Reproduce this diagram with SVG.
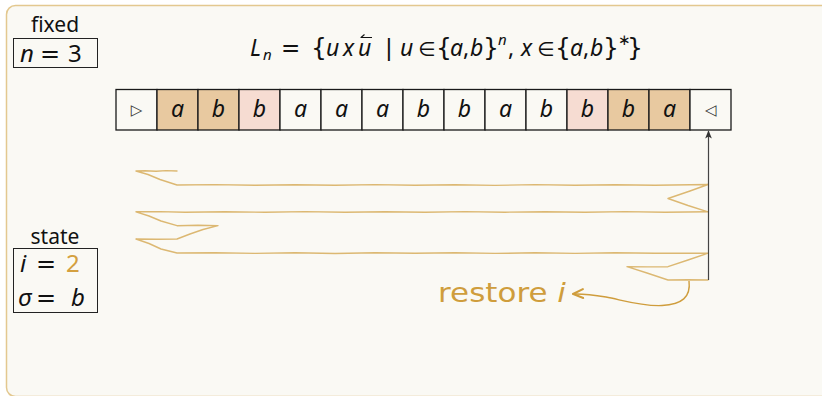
<svg xmlns="http://www.w3.org/2000/svg" width="822" height="396" viewBox="0 0 822 396">
  <style>
    .math { font-family: "Noto Sans", "DejaVu Sans", sans-serif; fill: #111; }
    .op { font-family: "DejaVu Sans", sans-serif; font-style: normal; }
    .el { font-family: "DejaVu Sans", sans-serif; font-style: normal; font-size: 20px; }
    .br { font-family: "DejaVu Sans", sans-serif; font-style: normal; font-size: 25px; }
    .it { font-style: italic; }
    .lbl { font-family: "Noto Sans", "DejaVu Sans", sans-serif; font-size: 21px; fill: #111; text-anchor: middle; }
    .cell { stroke: #1a1a1a; stroke-width: 1.3; }
    .plain { fill: #faf9f4; }
    .tan { fill: #e8c9a0; }
    .pink { fill: #f6dcd2; }
    .sym { font-family: "DejaVu Sans", sans-serif; font-size: 15px; fill: #333; text-anchor: middle; }
    .ch { font-family: "Noto Sans", "DejaVu Sans", sans-serif; font-style: italic; font-size: 23px; fill: #111; text-anchor: middle; }
    .trace { fill: none; stroke: #dcb872; stroke-width: 1.4; stroke-linejoin: round; stroke-linecap: round; }
    .gold { fill: #cf9d3c; }
  </style>
  <defs>
    <marker id="headArrow" viewBox="0 0 10 10" refX="9" refY="5" markerWidth="7" markerHeight="7" orient="auto">
      <path d="M0,1 L10,5 L0,9 L2.5,5 Z" fill="#333"/>
    </marker>
    <marker id="goldArrow" viewBox="0 0 10 10" refX="9" refY="5" markerWidth="9" markerHeight="9" orient="auto">
      <path d="M1,1.5 L9,5 L1,8.5" fill="none" stroke="#cf9d3c" stroke-width="1.6" stroke-linecap="round"/>
    </marker>
  </defs>

  <!-- canvas and frame (runs off the right and bottom edges) -->
  <rect x="0" y="0" width="822" height="396" fill="#ffffff"/>
  <rect x="6.5" y="5.5" width="825" height="391" rx="9" fill="#faf9f4" stroke="#e3c88f" stroke-width="1.5"/>

  <!-- fixed parameter -->
  <g id="fixed">
    <text class="lbl" x="55" y="32">fixed</text>
    <rect x="13.5" y="38.5" width="84" height="29" fill="none" stroke="#222" stroke-width="1"/>
    <text class="math" y="62" font-size="24"><tspan class="it" x="20">n</tspan><tspan class="op" x="40">=</tspan><tspan x="68">3</tspan></text>
  </g>

  <!-- language definition -->
  <g id="language">
    <text class="math" y="56" font-size="23"><tspan class="it" x="250">L</tspan><tspan class="it" font-size="15" x="263" dy="4">n</tspan><tspan class="op" x="281" dy="-4">=</tspan><tspan class="br" x="311">{</tspan><tspan class="it" x="326">u</tspan><tspan class="it" x="343">x</tspan><tspan class="it" x="358">u</tspan><tspan class="op" x="385">|</tspan><tspan class="it" x="400">u</tspan><tspan class="el" x="418">∈</tspan><tspan class="br" x="436">{</tspan><tspan class="it" x="450">a</tspan><tspan x="463">,</tspan><tspan class="it" x="470">b</tspan><tspan class="br" x="483">}</tspan><tspan class="it" font-size="15" x="498" dy="-11">n</tspan><tspan x="508" dy="11">,</tspan><tspan class="it" x="521">x</tspan><tspan class="el" x="537">∈</tspan><tspan class="br" x="555">{</tspan><tspan class="it" x="570">a</tspan><tspan x="583">,</tspan><tspan class="it" x="590">b</tspan><tspan class="br" x="603">}</tspan><tspan font-size="15" x="618" dy="-11">∗</tspan><tspan class="br" x="627" dy="11">}</tspan></text>
    <path d="M372,37.5 L361,37.5 L364.5,34.5" fill="none" stroke="#111" stroke-width="1.1" stroke-linejoin="round"/>
  </g>

  <!-- tape -->
  <g id="tape">
    <rect class="cell plain" x="116" y="89.5" width="41" height="40.5"/>
    <rect class="cell tan" x="157" y="89.5" width="41" height="40.5"/>
    <rect class="cell tan" x="198" y="89.5" width="41" height="40.5"/>
    <rect class="cell pink" x="239" y="89.5" width="41" height="40.5"/>
    <rect class="cell plain" x="280" y="89.5" width="41" height="40.5"/>
    <rect class="cell plain" x="321" y="89.5" width="41" height="40.5"/>
    <rect class="cell plain" x="362" y="89.5" width="41" height="40.5"/>
    <rect class="cell plain" x="403" y="89.5" width="41" height="40.5"/>
    <rect class="cell plain" x="444" y="89.5" width="41" height="40.5"/>
    <rect class="cell plain" x="485" y="89.5" width="41" height="40.5"/>
    <rect class="cell plain" x="526" y="89.5" width="41" height="40.5"/>
    <rect class="cell pink" x="567" y="89.5" width="41" height="40.5"/>
    <rect class="cell tan" x="608" y="89.5" width="41" height="40.5"/>
    <rect class="cell tan" x="649" y="89.5" width="41" height="40.5"/>
    <rect class="cell plain" x="690" y="89.5" width="41" height="40.5"/>
    <text class="sym" x="136.5" y="115">▷</text>
    <text class="ch" x="177.5" y="117">a</text>
    <text class="ch" x="218.5" y="117">b</text>
    <text class="ch" x="259.5" y="117">b</text>
    <text class="ch" x="300.5" y="117">a</text>
    <text class="ch" x="341.5" y="117">a</text>
    <text class="ch" x="382.5" y="117">a</text>
    <text class="ch" x="423.5" y="117">b</text>
    <text class="ch" x="464.5" y="117">b</text>
    <text class="ch" x="505.5" y="117">a</text>
    <text class="ch" x="546.5" y="117">b</text>
    <text class="ch" x="587.5" y="117">b</text>
    <text class="ch" x="628.5" y="117">b</text>
    <text class="ch" x="669.5" y="117">a</text>
    <text class="sym" x="710.5" y="115">◁</text>
  </g>

  <!-- state registers -->
  <g id="state">
    <text class="lbl" x="55" y="244">state</text>
    <rect x="13.5" y="248.5" width="84" height="64" fill="none" stroke="#222" stroke-width="1"/>
    <text class="math" y="272" font-size="24"><tspan class="it" x="20">i</tspan><tspan class="op" x="36">=</tspan><tspan x="66" fill="#d4a040">2</tspan></text>
    <text class="math" y="306" font-size="24"><tspan class="it" x="18">σ</tspan><tspan class="op" x="36">=</tspan><tspan class="it" x="71">b</tspan></text>
  </g>

  <!-- head trace and pointers -->
  <g id="connectors">
    <path class="trace" d="M177,171 L166,170.6 L156,171.3 L145,170.7 L136,171 L148,174.5 L160,179.5 L177,185 L215,184.6 L255,185.3 L295,184.7 L335,185.3 L375,184.6 L415,185.2 L455,184.7 L495,185.4 L535,184.6 L575,185.2 L615,184.7 L655,185.3 L708,184.5 L690,191 L668,198.5 L688,205.5 L708,211.8 L665,212.3 L625,211.6 L585,212.3 L545,211.7 L505,212.2 L465,211.6 L425,212.3 L385,211.7 L345,212.3 L305,211.6 L265,212.3 L225,211.7 L185,212.2 L160,211.6 L136,211.8 L149,216 L161,221 L177,225.7 L198,225.3 L218,225.6 L203,229.5 L190,234 L177,239 L157,239.3 L136,239 L149,243.5 L161,249 L177,253 L215,252.7 L255,253.4 L295,252.8 L335,253.5 L375,252.8 L415,253.3 L455,252.7 L495,253.4 L535,252.8 L575,253.4 L615,252.8 L655,253.3 L708,253.2 L688,260 L668,266.7 L648,266.9 L627,266.7 L647,273 L668,280 L688,279.7 L708,280"/>
    <line x1="708.5" y1="280" x2="708.5" y2="131" stroke="#444" stroke-width="1.2" marker-end="url(#headArrow)"/>
    <path d="M689,281 C691,297 682,304.5 662,305.5 C642,306.5 622,300 606,297 C594,295 584,293.5 573,294" fill="none" stroke="#cf9d3c" stroke-width="1.4" marker-end="url(#goldArrow)"/>
    <text class="gold" x="438" y="302" font-family="'DejaVu Sans', sans-serif" font-size="27" textLength="128" lengthAdjust="spacingAndGlyphs">restore <tspan font-style="italic">i</tspan></text>
  </g>
</svg>
